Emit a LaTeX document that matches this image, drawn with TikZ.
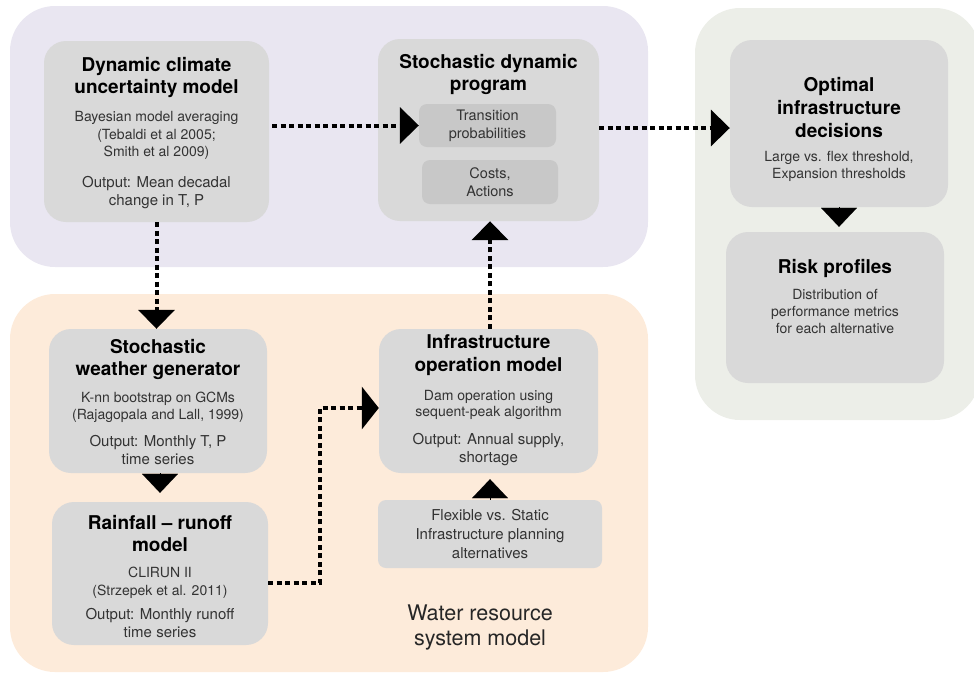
\documentclass[tikz,border=0pt]{standalone}
\usepackage{fontspec}
\setmainfont{TeX Gyre Heros}
\usetikzlibrary{arrows.meta,calc}
\definecolor{bgpurple}{HTML}{E9E6F1}
\definecolor{bgorange}{HTML}{FDEBDA}
\definecolor{bggreen}{HTML}{ECEEE8}
\definecolor{boxgray}{HTML}{D9D9D9}
\definecolor{innergray}{HTML}{C8C8C8}
\definecolor{txtgray}{HTML}{333333}
\begin{document}
\begin{tikzpicture}[x=1pt,y=-1pt,
  bgpanel/.style={rounded corners=45pt},
  box/.style={fill=boxgray, rounded corners=22pt, inner sep=0pt},
  innerbox/.style={fill=innergray, rounded corners=8pt, inner sep=0pt, align=center,
     font=\fontsize{14.5}{18}\selectfont, text=txtgray},
  ttl/.style={align=center, font=\fontsize{19}{22}\selectfont\bfseries, text=black, inner sep=0pt},
  dsc/.style={align=center, font=\fontsize{14}{17.5}\selectfont, text=txtgray, inner sep=0pt},
  outp/.style={align=center, font=\fontsize{15}{18}\selectfont, text=txtgray, inner sep=0pt},
  dotarrow/.style={line width=4pt, dash pattern=on 5pt off 3.5pt,
     -{Triangle[length=19pt,width=36pt]}},
  triarrow/.style={line width=0.1pt, -{Triangle[length=19pt,width=36pt]}}
]
\useasboundingbox (0,0) rectangle (974,673);
\clip (0,0) rectangle (974,673);

% background panels
\fill[bgpurple, bgpanel] (10,6) rectangle (648,267);
\fill[bgorange, bgpanel] (10,294) rectangle (648,672);
\fill[bggreen, bgpanel] (695,8) rectangle (980,420);

% boxes
\node[box, minimum width=225pt, minimum height=181pt] (dyn) at (156.5,131.5) {};
\node[box, minimum width=221pt, minimum height=182pt] (sdp) at (488.5,130) {};
\node[innerbox, minimum width=137pt, minimum height=43pt] (trans) at (487.5,125.5) {Transition\\probabilities};
\node[innerbox, minimum width=136pt, minimum height=44pt] (costs) at (490,182) {Costs,\\Actions};
\node[box, minimum width=218pt, minimum height=167pt] (opt) at (839,123.5) {};
\node[box, minimum width=218pt, minimum height=151pt] (risk) at (835,307.5) {};
\node[box, minimum width=218pt, minimum height=144pt] (wea) at (158,401) {};
\node[box, minimum width=216pt, minimum height=143pt] (rain) at (160,573.5) {};
\node[box, minimum width=219pt, minimum height=144pt] (infra) at (488.5,401) {};
\node[innerbox, fill=boxgray, font=\fontsize{15}{19}\selectfont, minimum width=224pt, minimum height=68pt] (flex) at (490,534)
  {Flexible vs. Static\\Infrastructure planning\\alternatives};

% texts
\node[ttl] (dyn-t) at (156.5,77.5) {Dynamic climate\\uncertainty model};
\node[dsc] (dyn-d) at (156.5,135.5) {Bayesian model averaging\\(Tebaldi et al 2005;\\Smith et al 2009)};
\node[outp] (dyn-o) at (156.5,193) {Output: Mean decadal\\change in T, P};

\node[ttl] (sdp-t) at (488.5,74.5) {Stochastic dynamic\\program};

\node[ttl, font=\fontsize{19}{23}\selectfont\bfseries] (opt-t) at (839,108) {Optimal\\infrastructure\\decisions};
\node[dsc] (opt-d) at (839,166.5) {Large vs. flex threshold,\\Expansion thresholds};

\node[ttl] (risk-t) at (835,268) {Risk profiles};
\node[dsc, font=\fontsize{14}{17}\selectfont] (risk-d) at (835,311) {Distribution of\\performance metrics\\for each alternative};

\node[ttl] (wea-t) at (158,359) {Stochastic\\weather generator};
\node[dsc] (wea-d) at (158,407.5) {K-nn bootstrap on GCMs\\(Rajagopala and Lall, 1999)};
\node[outp] (wea-o) at (158,450) {Output: Monthly T, P\\time series};

\node[ttl] (rain-t) at (160,533) {Rainfall -- runoff\\model};
\node[dsc, font=\fontsize{14}{18}\selectfont] (rain-d) at (160,583) {CLIRUN II\\(Strzepek et al. 2011)};
\node[outp] (rain-o) at (160,623) {Output: Monthly runoff\\time series};

\node[ttl, font=\fontsize{19}{23}\selectfont\bfseries] (infra-t) at (488.5,355.5) {Infrastructure\\operation model};
\node[dsc, font=\fontsize{14}{16.5}\selectfont] (infra-d) at (488.5,405) {Dam operation using\\sequent-peak algorithm};
\node[outp] (infra-o) at (488.5,450) {Output: Annual supply,\\shortage};

\node[align=center, font=\fontsize{21.5}{25}\selectfont, text=black!85, inner sep=0pt] (wrsm) at (480,627.5)
  {Water resource\\system model};

% connectors
\coordinate (bend) at (320,500);
\draw[dotarrow] ([xshift=3pt]dyn.east |- trans.west) -- (trans.west);
\draw[dotarrow] ([yshift=2pt]sdp.east) -- ([yshift=2pt]opt.west |- sdp.east);
\draw[dotarrow] (dyn.south) -- (dyn.south |- wea.north);
\draw[dotarrow, -{Triangle[length=17pt,width=42pt]}] ([yshift=-9.5pt]rain.east) -| (bend) |- ([yshift=-7pt]infra.west);
\draw[dotarrow] ([xshift=1.5pt]infra.north) -- ([xshift=1.5pt]infra.north |- sdp.south);

\draw[triarrow, shorten >=9pt] ([xshift=2pt]wea.south) -- ([xshift=2pt]wea.south |- rain.north);
\draw[triarrow, shorten >=5pt] (opt.south) -- (opt.south |- risk.north);
\draw[triarrow, shorten >=6pt] (flex.north) -- (flex.north |- infra.south);
\end{tikzpicture}
\end{document}
